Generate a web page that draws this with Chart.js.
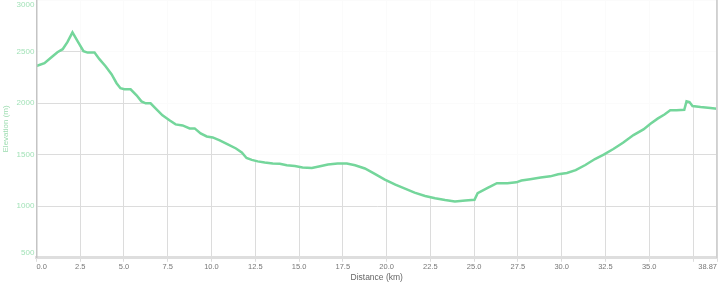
<!DOCTYPE html>
<html>
<head>
<meta charset="utf-8">
<script src="https://cdn.jsdelivr.net/npm/chart.js@4/dist/chart.umd.min.js"></script>
<style>
    html, body { margin: 0; padding: 0; background: #fff; }
    #wrap { width: 720px; height: 285px; }
</style>
</head>
<body>
<div id="wrap"><canvas id="elevation-chart"></canvas></div>
<script>
// distance along the route (km)
let distances = [0, 0.46, 0.86, 1.2, 1.5, 1.77, 2.06, 2.35, 2.69, 2.92, 3.32, 3.6, 3.95, 4.29, 4.58, 4.8, 5.03, 5.38,
    5.72, 6.0, 6.24, 6.52, 6.86, 7.2, 7.6, 7.95, 8.35, 8.75, 9.04, 9.38, 9.73, 10.07, 10.47, 10.93, 11.4, 11.73,
    12.0, 12.3, 12.64, 13.04, 13.5, 13.9, 14.3, 14.76, 15.2, 15.73, 16.2, 16.65, 17.2, 17.73, 18.2, 18.76, 19.3,
    19.9, 20.5, 21.05, 21.6, 22.2, 22.77, 23.34, 23.9, 24.5, 25.02, 25.2, 25.8, 26.3, 26.9, 27.4, 27.7, 28.2, 28.8,
    29.35, 29.8, 30.3, 30.8, 31.35, 31.9, 32.4, 32.95, 33.5, 34.1, 34.67, 35.07, 35.5, 35.87, 36.2, 36.56, 37.0,
    37.13, 37.3, 37.47, 37.93, 38.5, 38.87];
// elevation (m)
let elevations = [2360, 2387, 2445, 2494, 2523, 2591, 2686, 2601, 2504, 2490, 2490, 2426, 2358, 2280, 2193, 2144, 2134, 2134,
    2076, 2017, 1998, 1998, 1940, 1881, 1833, 1794, 1784, 1755, 1755, 1706, 1677, 1667, 1638, 1600, 1560, 1521,
    1468, 1450, 1435, 1424, 1414, 1412, 1398, 1390, 1376, 1370, 1388, 1405, 1414, 1414, 1398, 1366, 1317,
    1259, 1210, 1171, 1132, 1100, 1077, 1060, 1047, 1055, 1062, 1126, 1180, 1223, 1223, 1232, 1250, 1262, 1278,
    1290, 1310, 1322, 1350, 1400, 1458, 1500, 1555, 1615, 1690, 1745, 1800, 1852, 1890, 1930, 1930, 1936,
    2017, 2010, 1972, 1962, 1952, 1946];
// axis ticks
let xTicks = [0, 2.5, 5, 7.5, 10, 12.5, 15, 17.5, 20, 22.5, 25, 27.5, 30, 32.5, 35, 37.5, 38.87];
let xHiddenTicks = [37.5];
let yTicks = [500, 1000, 1500, 2000, 2500, 3000];

let points = [];
for (let i = 0; i < distances.length; i++) {
    points.push({ x: distances[i], y: elevations[i] });
}

let ctx = document.getElementById('elevation-chart').getContext('2d');
let chart = new Chart(ctx, {
    type: 'line',
    data: {
        datasets: [{
            label: 'Elevation',
            data: points,
            borderColor: '#74d69b',
            borderWidth: 2.5,
            pointRadius: 0,
            tension: 0,
            // pale veil above the profile so the grid only shows under it
            fill: 'end',
            backgroundColor: 'rgba(255, 255, 255, 0.88)'
        }]
    },
    options: {
        responsive: true,
        maintainAspectRatio: false,
        animation: false,
        layout: { padding: { top: 0, right: 3, left: 1, bottom: 2 } },
        plugins: {
            legend: { display: false },
            tooltip: { enabled: false }
        },
        scales: {
            x: {
                type: 'linear',
                min: 0,
                max: 38.87,
                afterBuildTicks: function (axis) {
                    axis.ticks = xTicks.map(v => ({ value: v }));
                },
                ticks: {
                    autoSkip: false,
                    maxRotation: 0,
                    align: 'inner',
                    padding: 1,
                    color: '#777',
                    font: { family: 'Liberation Sans', size: 7.5 },
                    callback: function (v) {
                        if (xHiddenTicks.includes(v)) return '';
                        return v == 38.87 ? '38.87' : v.toFixed(1);
                    }
                },
                grid: { color: '#dcdcdc', tickLength: 4 },
                border: { color: '#dedede', width: 3, z: 1 },
                title: {
                    display: true,
                    text: 'Distance (km)',
                    color: '#666',
                    font: { family: 'Liberation Sans', size: 8.5 },
                    padding: { top: 0, bottom: 0 }
                }
            },
            y: {
                min: 500,
                max: 3000,
                afterBuildTicks: function (axis) {
                    axis.ticks = yTicks.map(v => ({ value: v }));
                },
                // let the plot run right up to the top edge
                afterFit: function (axis) {
                    axis.paddingTop = 0;
                    axis.paddingBottom = 0;
                },
                ticks: {
                    padding: 2,
                    color: '#a3e2b8',
                    font: { family: 'Liberation Sans', size: 8 },
                    callback: function (v) {
                        // nudge the end labels inside the plot
                        if (v == yTicks[yTicks.length - 1]) return ['', String(v)];
                        if (v == yTicks[0]) return [String(v), ''];
                        return String(v);
                    }
                },
                grid: { color: '#dcdcdc', drawTicks: false },
                border: { color: '#c4c4c4', width: 1.5, z: 1 },
                title: {
                    display: true,
                    text: 'Elevation (m)',
                    color: '#9ddcb0',
                    font: { family: 'Liberation Sans', size: 8 },
                    padding: { top: 0, bottom: 4 }
                }
            },
            yRight: {
                position: 'right',
                min: 500,
                max: 3000,
                afterFit: function (axis) {
                    axis.paddingTop = 0;
                    axis.paddingBottom = 0;
                },
                ticks: { display: false },
                grid: { display: false, drawTicks: false },
                border: { color: '#d0d0d0', width: 1.5, z: 1 }
            }
        }
    }
});
</script>
</body>
</html>
